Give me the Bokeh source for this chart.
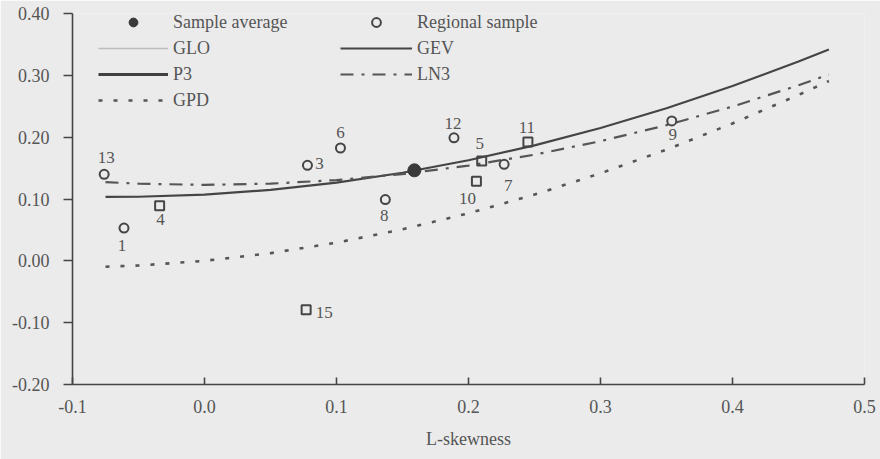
from bokeh.plotting import figure
from bokeh.models import (Range1d, FixedTicker, NumeralTickFormatter, Legend,
                          LegendItem, ColumnDataSource, LabelSet)
from bokeh.embed import file_html
from bokeh.resources import INLINE

# ---------------- data ----------------
skew_grid = [-0.075, -0.05, 0.0, 0.05, 0.1, 0.15, 0.2, 0.25, 0.3, 0.35, 0.4, 0.45, 0.473]
gev_kurt = [0.1035, 0.1036, 0.1070, 0.1147, 0.1265, 0.1425, 0.1626, 0.1867, 0.2148, 0.2468, 0.2827, 0.3224, 0.3419]
ln3_kurt = [0.1272, 0.1248, 0.1228, 0.1248, 0.1306, 0.1403, 0.1540, 0.1717, 0.1935, 0.2194, 0.2495, 0.2839, 0.3012]
gpd_kurt = [-0.0095, -0.0076, 0.0000, 0.0124, 0.0294, 0.0510, 0.0769, 0.1071, 0.1415, 0.1799, 0.2222, 0.2683, 0.2908]

# GLO and P3 appear only in the legend (no visible curve in the plotted range)
glo_skew = [float("nan")]
glo_kurt = [float("nan")]
p3_skew = [float("nan")]
p3_kurt = [float("nan")]

site_ids = ["13", "1", "4", "3", "6", "8", "15", "12", "5", "10", "7", "11", "9"]
site_skew = [-0.076, -0.061, -0.034, 0.078, 0.103, 0.137, 0.077, 0.189, 0.210, 0.206, 0.227, 0.245, 0.354]
site_kurt = [0.140, 0.053, 0.089, 0.1545, 0.1825, 0.099, -0.079, 0.199, 0.1615, 0.1286, 0.1561, 0.1922, 0.2262]
site_marker = ["circle", "circle", "square", "circle", "circle", "circle", "square",
               "circle", "square", "square", "circle", "square", "circle"]

avg_skew = [0.159]
avg_kurt = [0.1464]

x_ticks = [-0.1, 0.0, 0.1, 0.2, 0.3, 0.4, 0.5]
y_ticks = [-0.2, -0.1, 0.0, 0.1, 0.2, 0.3, 0.4]

# label placement (pixels, screen: +dx right, +dy down)
label_dx = {"13": 2, "1": -2, "4": 1, "3": 12, "6": 0, "8": -1, "15": 18,
            "12": -1, "5": -2, "10": -9, "7": 4, "11": -1, "9": 1}
label_dy = {"13": -17, "1": 17, "4": 14, "3": -2, "6": -15, "8": 16, "15": 3,
            "12": -14, "5": -17, "10": 17, "7": 21, "11": -14, "9": 14}

# ---------------- style ----------------
BG = "#ebebeb"
INK = "#454545"
TXT = "#555555"
FONT = "Liberation Serif"

p = figure(width=880, height=459, output_backend="svg", toolbar_location=None,
           x_range=Range1d(-0.1, 0.5), y_range=Range1d(-0.2, 0.4),
           min_border_left=72, min_border_right=16, min_border_top=13, min_border_bottom=75)
p.background_fill_color = BG
p.border_fill_color = BG
p.outline_line_color = None
p.xgrid.visible = False
p.ygrid.visible = False

# axes
p.xaxis.ticker = FixedTicker(ticks=x_ticks)
p.yaxis.ticker = FixedTicker(ticks=y_ticks)
p.xaxis.formatter = NumeralTickFormatter(format="0.0")
p.yaxis.formatter = NumeralTickFormatter(format="0.00")
for ax in (p.xaxis[0], p.yaxis[0]):
    ax.axis_line_color = INK
    ax.axis_line_width = 1.6
    ax.major_tick_line_color = INK
    ax.major_tick_line_width = 1.6
    ax.minor_tick_line_color = None
    ax.major_label_text_font = FONT
    ax.major_label_text_font_size = "18px"
    ax.major_label_text_color = TXT
p.xaxis.major_tick_in = 7
p.xaxis.major_tick_out = 0
p.xaxis.major_label_standoff = 15
p.xaxis.axis_label = "L-skewness"
p.xaxis.axis_label_text_font = FONT
p.xaxis.axis_label_text_font_size = "18px"
p.xaxis.axis_label_text_font_style = "normal"
p.xaxis.axis_label_text_color = TXT
p.xaxis.axis_label_standoff = 13
p.yaxis.major_tick_in = 0
p.yaxis.major_tick_out = 9
p.yaxis.major_label_standoff = 14

# curves
r_glo = p.line(glo_skew, glo_kurt, line_color="#bdbdbd", line_width=1.5)
r_p3 = p.line(p3_skew, p3_kurt, line_color="#3f3f3f", line_width=3)
r_gev = p.line(skew_grid, gev_kurt, line_color=INK, line_width=2.2)
r_ln3 = p.line(skew_grid, ln3_kurt, line_color="#555555", line_width=2.2, line_dash="13 8 3 8")
r_gpd = p.line(skew_grid, gpd_kurt, line_color="#555555", line_width=2.6, line_dash="4 11")

# regional samples
src = ColumnDataSource(dict(x=site_skew, y=site_kurt, m=site_marker, id=site_ids,
                            dx=[label_dx[s] for s in site_ids],
                            dy=[-label_dy[s] for s in site_ids]))
r_site = p.scatter("x", "y", source=src, marker="m", size=9, line_color=INK,
                   line_width=2, fill_alpha=0)
p.add_layout(LabelSet(x="x", y="y", text="id", source=src, x_offset="dx", y_offset="dy",
                      text_align="center", text_baseline="middle", text_font=FONT,
                      text_font_size="17px", text_color=TXT))

# sample average
r_avg = p.scatter(avg_skew, avg_kurt, marker="circle", size=13, fill_color="#3a3a3a",
                  line_color="#3a3a3a")

# legends (two columns, no frame)
def make_legend(items, loc, gw):
    return Legend(items=items, location=loc, orientation="vertical",
                  glyph_width=gw, glyph_height=22, label_height=22, spacing=4,
                  padding=0, margin=0, label_standoff=5,
                  label_text_font=FONT, label_text_font_size="18px",
                  label_text_color=TXT, background_fill_alpha=0,
                  border_line_color=None)

leg_a = make_legend([LegendItem(label="Sample average", renderers=[r_avg]),
                     LegendItem(label="GLO", renderers=[r_glo]),
                     LegendItem(label="P3", renderers=[r_p3]),
                     LegendItem(label="GPD", renderers=[r_gpd])], (26, 273), 70)
leg_b = make_legend([LegendItem(label="Regional sample", renderers=[r_site], index=0),
                     LegendItem(label="GEV", renderers=[r_gev]),
                     LegendItem(label="LN3", renderers=[r_ln3])], (268, 299), 72)
p.add_layout(leg_a)
p.add_layout(leg_b)

open("out.html", "w").write(file_html(p, INLINE))
